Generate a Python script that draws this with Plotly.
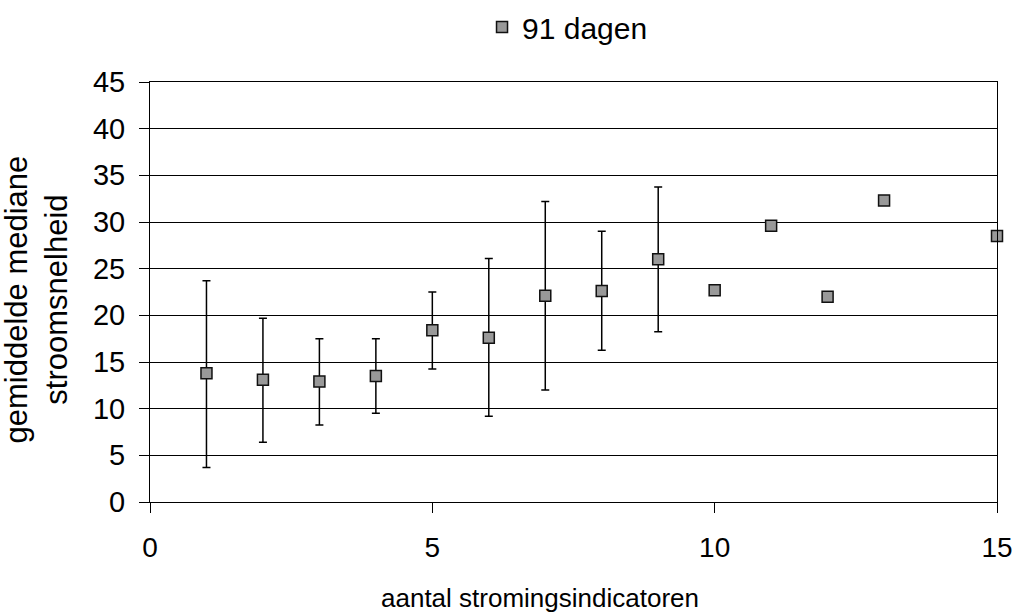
import plotly.graph_objects as go

# Data
x_vals = [1, 2, 3, 4, 5, 6, 7, 8, 9, 10, 11, 12, 13, 15]
y_vals = [13.8, 13.1, 12.9, 13.5, 18.4, 17.6, 22.1, 22.6, 26.0, 22.7, 29.6, 22.0, 32.3, 28.5]
upper_vals = [23.7, 19.7, 17.5, 17.5, 22.5, 26.1, 32.2, 29.0, 33.75, 22.7, 29.6, 22.0, 32.3, 28.5]
lower_vals = [3.7, 6.4, 8.25, 9.5, 14.25, 9.2, 12.0, 16.25, 18.25, 22.7, 29.6, 22.0, 32.3, 28.5]
series_name = "91 dagen"
x_title = "aantal stromingsindicatoren"
y_title = "gemiddelde mediane<br>stroomsnelheid"

err_plus = [u - y for u, y in zip(upper_vals, y_vals)]
err_minus = [y - l for y, l in zip(y_vals, lower_vals)]

FONT = "Liberation Sans, Arial, sans-serif"

fig = go.Figure()
fig.add_trace(go.Scatter(
    x=x_vals, y=y_vals, mode="markers", name=series_name,
    marker=dict(symbol="square", size=11, color="#999999",
                line=dict(color="#111111", width=1.5)),
    error_y=dict(type="data", symmetric=False, array=err_plus,
                 arrayminus=err_minus, color="#000000",
                 thickness=1.5, width=4),
    cliponaxis=False,
))

fig.update_layout(
    width=1016, height=615,
    margin=dict(l=150, r=19, t=82, b=113, autoexpand=False),
    paper_bgcolor="white", plot_bgcolor="white",
    font=dict(family=FONT, size=26, color="#000000"),
    showlegend=True,
    legend=dict(orientation="h", x=0.392, xanchor="left", y=1.131,
                yanchor="middle", font=dict(size=30), bgcolor="rgba(0,0,0,0)"),
    xaxis=dict(range=[0, 15], tickvals=[0, 5, 10, 15], showgrid=False,
               zeroline=False, showline=True, linecolor="#000000", linewidth=1,
               mirror=True, ticks="outside", ticklen=10, tickcolor="#000000",
               tickfont=dict(size=28), ticklabelstandoff=10, automargin=False),
    yaxis=dict(range=[0, 45], dtick=5, showgrid=True, gridcolor="#000000",
               gridwidth=1, zeroline=False, showline=True, linecolor="#000000",
               linewidth=1, mirror=True, ticks="outside", ticklen=10,
               tickcolor="#000000", tickfont=dict(size=29), ticklabelstandoff=8,
               automargin=False),
    annotations=[
        dict(text=x_title, xref="paper", yref="paper", x=0.4604, y=-0.229,
             xanchor="center", yanchor="middle", showarrow=False,
             font=dict(size=26)),
        dict(text=y_title, xref="paper", yref="paper", x=-0.134, y=0.481,
             xanchor="center", yanchor="middle", showarrow=False,
             textangle=-90, font=dict(size=31)),
    ],
)

fig.write_html(
    "out.html",
    config={"displayModeBar": False},
    post_script="document.body.style.margin='0';document.body.style.overflow='hidden';",
)
